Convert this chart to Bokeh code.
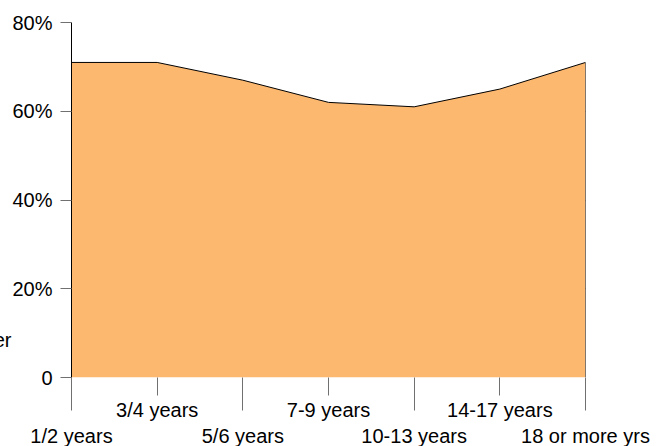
from bokeh.plotting import figure
from bokeh.models import FixedTicker, Range1d
from bokeh.embed import file_html
from bokeh.resources import INLINE
from bokeh.core.properties import value

# ---- data ----
categories = ["1/2 years", "3/4 years", "5/6 years", "7-9 years",
              "10-13 years", "14-17 years", "18 or more yrs"]
percent = [71, 71, 67, 62, 61, 65, 71]
y_ticks = [0, 20, 40, 60, 80]
y_tick_labels = ["0", "20%", "40%", "60%", "80%"]
side_text = "er"

FONT = "Liberation Sans"
FS = "20px"
TICK_GRAY = "#707070"
FILL = "#FDB870"

idx = list(range(len(categories)))

p = figure(width=659, height=446, output_backend="svg", toolbar_location=None,
           x_range=Range1d(idx[0], idx[-1]), y_range=Range1d(y_ticks[0], y_ticks[-1]),
           min_border_left=71, min_border_right=74, min_border_top=22,
           min_border_bottom=69)
p.outline_line_color = None
p.background_fill_color = "white"
p.border_fill_color = "white"

# area
p.varea(x=idx, y1=0, y2=percent, fill_color=FILL)
p.line(x=idx, y=percent, line_color="black", line_width=1)
p.segment(x0=[idx[-1]], y0=[0], x1=[idx[-1]], y1=[percent[-1]],
          line_color="black", line_width=1)

# grid
p.xgrid.visible = False
p.ygrid.ticker = FixedTicker(ticks=y_ticks)
p.ygrid.grid_line_color = TICK_GRAY
p.ygrid.grid_line_width = 1

# y axis
ya = p.yaxis[0]
ya.ticker = FixedTicker(ticks=y_ticks, minor_ticks=[])
ya.major_label_overrides = {t: l for t, l in zip(y_ticks, y_tick_labels)}
ya.major_tick_out = 11
ya.major_tick_in = 0
ya.minor_tick_out = 0
ya.minor_tick_in = 0
ya.major_tick_line_color = TICK_GRAY
ya.axis_line_color = "black"
ya.major_label_standoff = 8
ya.major_label_text_font = FONT
ya.major_label_text_font_size = FS
ya.major_label_text_color = "black"

# x axis: boundary ticks long, centre ticks short; labels drawn as text below
xa = p.xaxis[0]
xa.ticker = FixedTicker(ticks=idx[::2], minor_ticks=idx[1::2])
xa.major_label_overrides = {i: "" for i in idx}
xa.major_label_text_font_size = "0px"
xa.major_label_standoff = 0
xa.major_tick_out = 33
xa.major_tick_in = 0
xa.minor_tick_out = 18
xa.minor_tick_in = 0
xa.major_tick_line_color = TICK_GRAY
xa.minor_tick_line_color = TICK_GRAY
xa.axis_line_color = None

# category labels, alternating in two rows
common = dict(text_align="center", text_baseline="alphabetic",
              text_font=value(FONT), text_font_size=FS, text_color="black",
              level="overlay")
p.text(x=idx[1::2], y=[0] * len(idx[1::2]), text=categories[1::2],
       y_offset=32, **common)
p.text(x=idx[::2], y=[0] * len(idx[::2]), text=categories[::2],
       y_offset=58, **common)

# clipped side label
p.text(x=[0], y=[8.4], text=[side_text], x_offset=-60, text_align="right",
       text_baseline="alphabetic", text_font=value(FONT), text_font_size=FS,
       text_color="black", level="overlay")

open("out.html", "w").write(file_html(p, INLINE))
